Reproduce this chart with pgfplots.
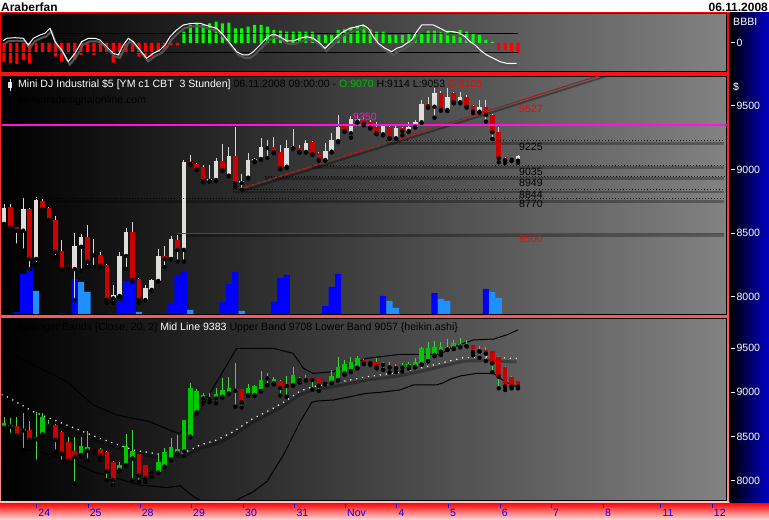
\documentclass[border=0pt]{standalone}
\usepackage{pgfplots}
\usepackage{pgfplotstable}
\pgfplotsset{compat=1.18}
\usepackage{fontspec}
\setmainfont{Liberation Sans}
\definecolor{magline}{RGB}{255,20,220}
\definecolor{candlewhite}{RGB}{222,222,218}
\definecolor{candlered}{RGB}{205,0,0}
\definecolor{wickcol}{RGB}{215,215,215}
\definecolor{hagreen}{RGB}{0,200,0}
\definecolor{hared}{RGB}{200,0,0}
\definecolor{hawick}{RGB}{70,210,70}
\definecolor{oscgreen}{RGB}{0,255,0}
\definecolor{oscred}{RGB}{255,0,0}
\definecolor{volblue}{RGB}{0,0,255}
\definecolor{vollight}{RGB}{30,144,255}
\definecolor{bggray}{RGB}{130,130,130}
\definecolor{navyblue}{RGB}{0,0,200}
\definecolor{titlegreen}{RGB}{0,190,0}
\definecolor{framepink}{RGB}{255,140,140}
\definecolor{shadowgray}{RGB}{85,85,85}
\definecolor{strippink}{RGB}{255,222,222}
\definecolor{seppink}{RGB}{255,195,195}
\newcommand\fs{\fontsize{10.6}{12}\selectfont}
\newcommand\tlab[1]{\rule[3.2bp]{4bp}{1bp}\hspace{1.6bp}#1}
\newcommand\dlab[1]{\makebox[0pt][l]{\raisebox{9.1bp}{\rule{1bp}{3.4bp}}}\hspace{2.3bp}#1}

% price candles (3 hours)
\pgfplotstableread{
i O H L C
0 8573 8730 8551 8696
1 8704 8730 8520 8544
2 8547 8552 8402 8520
3 8520 8774 8363 8690
4 8690 8698 8217 8298
5 8298 8782 8256 8761
6 8753 8777 8683 8690
7 8698 8708 8597 8604
8 8604 8635 8311 8355
9 8361 8447 8212 8219
10 8241 8251 8219 8230
11 8219 8504 7976 8400
12 8394 8494 8206 8471
13 8471 8565 8233 8277
14 8336 8455 8235 8326
15 8329 8355 8238 8245
16 8251 8258 7952 7976
17 7989 8094 7952 8015
18 8007 8355 8000 8321
19 8321 8541 8219 8512
20 8512 8588 8120 8133
21 8141 8150 7955 7976
22 7976 8094 7970 8070
23 8055 8141 8050 8133
24 8125 8376 8120 8321
25 8321 8400 8235 8298
26 8298 8478 8292 8455
27 8447 8486 8277 8369
28 8369 9075 8277 9059
29 9059 9114 9036 9044
30 9044 9052 8996 9004
31 9022 9032 8900 8910
32 8910 9036 8904 8926
33 8918 9091 8910 9067
34 9067 9201 8990 8996
35 8952 9179 8946 9106
36 9106 9336 8865 8894
37 8894 8965 8840 8910
38 8936 9130 8930 9075
39 9067 9092 9058 9083
40 9083 9248 9077 9177
41 9169 9232 9091 9179
42 9179 9258 9128 9135
43 9135 9193 9002 9010
44 9022 9232 9012 9172
45 9169 9318 9160 9185
46 9169 9193 9133 9140
47 9138 9232 9133 9208
48 9216 9224 9114 9122
49 9130 9135 9068 9075
50 9075 9208 9068 9146
51 9140 9285 9134 9232
52 9224 9428 9215 9336
53 9344 9356 9296 9303
54 9285 9423 9250 9397
55 9376 9428 9368 9397
56 9397 9410 9347 9355
57 9376 9386 9322 9329
58 9336 9376 9277 9285
59 9277 9360 9268 9344
60 9336 9360 9240 9245
61 9245 9345 9240 9329
62 9329 9337 9268 9303
63 9303 9373 9296 9336
64 9336 9389 9330 9371
65 9371 9546 9365 9512
66 9512 9570 9485 9493
67 9493 9640 9407 9599
68 9599 9620 9462 9468
69 9468 9640 9460 9572
70 9599 9610 9520 9528
71 9528 9611 9520 9572
72 9572 9585 9486 9493
73 9501 9508 9443 9454
74 9454 9546 9447 9493
75 9493 9546 9376 9428
76 9428 9437 9240 9292
77 9292 9336 9057 9088
78 9093 9098 9051 9073
79 9078 9098 9066 9086
80 9070 9114 9053 9105
}\pricetab

% heikin-ashi candles
\pgfplotstableread{
i O H L C
0 8599 8724 8572 8648
1 8610 8705 8516 8629
2 8618 8724 8500 8508
3 8565 8762 8346 8584
4 8569 8675 8440 8459
5 8470 8780 8213 8497
6 8523 8762 8510 8716
7 8618 8686 8580 8640
8 8629 8640 8327 8459
9 8546 8560 8213 8304
10 8433 8497 8215 8225
11 8334 8497 7968 8270
12 8289 8497 8280 8391
13 8338 8561 8225 8380
14 8365 8370 8308 8346
15 8357 8365 8232 8281
16 8327 8335 8005 8100
17 8213 8220 7949 8006
18 8119 8213 8110 8175
19 8175 8523 8170 8391
20 8251 8572 8005 8334
21 8296 8300 7986 8054
22 8175 8180 7986 8024
23 8107 8120 8040 8092
24 8092 8308 8085 8213
25 8157 8365 8150 8319
26 8240 8478 8230 8380
27 8308 8516 8300 8357
28 8330 8690 8280 8686
29 8497 9101 8490 9052
30 8773 9040 8760 9015
31 8931 8990 8880 8969
32 8920 8990 8886 8939
33 8931 9052 8875 8985
34 8950 9158 8940 9026
35 8988 9177 8980 9052
36 9018 9330 8837 9037
37 9037 9040 8826 8886
38 8969 9090 8960 9052
39 8969 9085 8960 9075
40 9015 9241 9010 9140
41 9158 9215 9080 9177
42 9102 9177 9090 9150
43 9128 9135 8962 9052
44 9094 9185 8950 9071
45 9083 9290 9075 9196
46 9135 9177 9110 9142
47 9140 9200 9130 9166
48 9158 9165 9030 9140
49 9158 9165 9015 9075
50 9120 9125 9090 9098
51 9109 9253 9100 9185
52 9140 9405 9130 9283
53 9215 9366 9200 9317
54 9241 9405 9230 9347
55 9279 9415 9270 9385
56 9366 9380 9320 9328
57 9355 9360 9310 9328
58 9347 9385 9270 9290
59 9322 9345 9255 9310
60 9310 9347 9225 9280
61 9300 9320 9230 9272
62 9280 9328 9235 9303
63 9290 9345 9270 9317
64 9290 9385 9280 9347
65 9317 9510 9310 9499
66 9355 9575 9350 9506
67 9423 9582 9410 9517
68 9461 9575 9423 9517
69 9487 9605 9480 9517
70 9499 9593 9490 9555
71 9518 9612 9510 9548
72 9538 9590 9520 9523
73 9536 9540 9420 9453
74 9491 9528 9393 9461
75 9480 9517 9355 9438
76 9468 9470 9227 9328
77 9397 9400 9045 9177
78 9290 9295 9026 9064
79 9177 9180 9045 9064
80 9128 9130 9045 9064
}\heikintab

\pgfplotstableread{
i P
-0.4 9440
1.45 9423
4.57 9310
9.76 9121
13.9 8856
17.5 8743
22.7 8667
26.4 8554
27.4 8535
28.4 8629
30.5 8799
33.6 9177
36.2 9499
41.9 9499
45.0 9442
46.6 9272
48.1 9215
51.3 9234
56.4 9385
61.6 9430
67.9 9431
69.4 9499
73.0 9593
76.2 9604
78.2 9650
80.0 9708
}\upband

\pgfplotstableread{
i P
-0.4 8975
0 8969
4.57 8780
9.76 8629
14.9 8478
20.1 8346
24.3 8297
27.4 8308
28.4 8327
30.5 8402
33.1 8459
35.7 8554
38.8 8705
40.9 8780
43.5 8886
46.1 9015
48.1 9064
51.3 9102
56.4 9177
61.6 9226
65.3 9283
68.9 9347
71.5 9393
76.2 9404
77.2 9393
79.8 9383
}\midband

\pgfplotstableread{
i P
1.45 8380
5.6 8327
9.76 8232
13.9 8100
17.5 8024
21.2 7949
25.3 7919
27.4 7941
29.5 7817
30.5 7779
33.0 7650
36.2 7779
38.8 7873
40.9 7987
43.5 8289
46.1 8667
47.9 8886
48.7 8901
51.3 8913
56.4 8988
58.5 9000
61.6 9026
63.7 9083
67.3 9083
68.4 9109
69.4 9147
71.0 9185
73.6 9215
76.2 9215
76.9 9177
77.7 9132
78.5 9102
80.0 9057
}\lowband

\pgfplotstableread{
i v
0 -18.9
1 -20.5
2 -21.2
3 -17.2
4 -20.5
5 -9.9
6 -9.9
7 -9.9
8 -13.9
9 -18.9
10 -10.5
11 -17.2
12 -12.2
13 -9.9
14 -12.2
15 -9.9
16 -10.5
17 -19.9
18 -13.2
19 -9.9
20 -9.9
21 -13.9
22 -13.9
23 -13.9
24 -9.9
25 -6.5
26 -2.2
27 -2.2
77 -7.2
78 -7.2
79 -10.5
80 -10.5
}\oscneg

\pgfplotstableread{
i v
28 11.1
29 17.8
30 20.1
31 17.8
32 19.5
33 21.1
34 19.5
35 20.1
36 14.5
37 14.5
38 16.1
39 17.8
40 17.8
41 16.1
42 12.8
43 12.1
44 11.1
45 11.1
46 11.1
47 11.1
48 11.1
49 7.8
50 7.8
51 7.8
52 12.8
53 13.5
54 15.5
55 16.8
56 16.8
57 13.5
58 11.1
59 11.1
60 7.8
61 7.8
62 7.8
63 9.5
64 9.5
65 9.5
66 12.1
67 12.1
68 12.1
69 12.1
70 11.1
71 12.8
72 11.1
73 9.5
74 7.8
75 2.8
76 1.1
}\oscpos

\pgfplotstableread{
i v
-0.1 2.1
0.42 4.5
1.71 5.1
3.0 4.5
3.79 -2.2
4.57 4.5
5.6 7.8
6.38 9.5
7.16 14.5
7.94 1.1
8.98 -7.2
10.0 -18.9
11.05 -10.5
12.09 1.1
13.12 4.5
14.16 4.5
14.94 2.8
15.98 -3.9
17.01 -10.5
17.79 -12.2
18.57 -2.2
19.35 4.5
20.12 1.1
21.17 -7.2
22.21 -15.5
23.24 -10.5
24.28 -7.2
25.06 -2.2
25.84 6.1
26.88 12.8
27.91 17.8
29.21 19.5
30.51 19.5
31.8 16.8
33.1 14.5
34.13 7.8
35.18 -0.5
36.22 -8.9
37.25 -12.2
38.03 -12.2
38.81 -8.9
39.84 -2.2
40.89 5.0
41.92 8.8
42.96 6.1
44.0 1.8
45.03 1.8
46.07 4.5
47.11 6.1
48.14 4.5
49.18 -0.5
49.96 -5.5
50.74 -0.5
51.78 6.1
52.81 11.1
53.85 14.5
54.9 16.1
55.92 17.8
56.7 14.5
57.48 6.1
58.26 -0.5
59.3 -5.5
60.34 -8.9
61.12 -5.5
61.9 -3.9
62.68 -0.5
63.46 2.8
64.23 11.1
65.01 17.8
66.82 17.8
67.86 14.5
68.9 11.1
69.93 11.1
70.97 9.5
71.75 6.1
72.53 1.1
73.31 -2.2
74.09 -7.2
75.13 -12.2
76.16 -15.5
77.2 -18.9
78.24 -20.5
79.8 -20.5
}\oscline

\pgfplotstableread{
i v
1 1
2 3
3 41
4 47
9 2
11 36
16 1
17 2
18 14
19 34
20 35
25 2
26 12
27 40
28 44
33 1
34 13
35 31
36 43
41 1
42 13
43 37
44 40
50 9
51 28
52 41
59 19
67 22
74 1
75 26
}\volbluetab

\pgfplotstableread{
i v
5 24
12 33
13 23
21 3
29 5
37 4
45 1
53 1
60 14
61 7
68 16
69 14
76 23
77 17
}\vollighttab

\pgfplotsset{
  panel/.style={scale only axis, width=725bp, xmin=-0.358, xmax=112.48, clip=true,
    axis line style={draw=black, line width=1bp}, xtick=\empty, major tick length=0pt,
    yticklabel pos=right,
    tick label style={font=\fs, text=white, inner sep=0pt},
    yticklabel style={anchor=west, xshift=4bp},
    axis background/.style={shade, left color=black, right color=bggray}},
  wick/.style={only marks, no markers, forget plot, error bars/.cd, y dir=plus, y explicit,
    error mark=none, error bar style={line width=1bp, draw=#1}, /pgfplots/.cd},
  body/.style={only marks, no markers, forget plot, error bars/.cd, y dir=plus, y explicit,
    error mark=none, error bar style={line width=4.6bp, draw=#1}, /pgfplots/.cd},
}

\begin{document}
\begin{tikzpicture}[x=1bp, y=1bp, font=\fs]
% page and frames
\fill[white] (0,0) rectangle (769,520);
\shade[top color=red, bottom color=framepink] (0,17.3) rectangle (729.5,507.3);
\shade[top color=red, bottom color=strippink] (0,0) rectangle (769,17.3);
\fill[seppink] (0,17.3) rectangle (729.5,19.0);
\shade[left color=black, right color=navyblue] (729.5,17.3) rectangle (769,507.3);
\node[anchor=west, font=\fontsize{12}{13}\selectfont\bfseries, inner sep=0pt] at (1,513) {Araberfan};
\node[anchor=east, font=\fontsize{12}{13}\selectfont\bfseries, inner sep=0pt] at (768,513) {06.11.2008};

% ---------- top oscillator panel ----------
\begin{axis}[panel, at={(1.7bp,448.3bp)}, anchor=south west, height=57.7bp,
  ymin=-28.9, ymax=28.8, ytick={0}, yticklabels={\tlab{0}}]
\addplot[oscred, ybar, bar width=3.2bp, draw=none, fill=oscred] table[x=i,y=v] {\oscneg};
\addplot[oscgreen, ybar, bar width=3bp, draw=none, fill=oscgreen] table[x=i,y=v] {\oscpos};
\addplot[black, line width=1bp] coordinates {(-0.4,9.5) (80.0,9.5)};
\addplot[black, line width=1bp] coordinates {(-0.4,-9.9) (80.0,-9.9)};
\addplot[shadowgray, line width=2bp, xshift=1.5bp, yshift=-3bp] table[x=i,y=v] {\oscline};
\addplot[white, line width=1bp] table[x=i,y=v] {\oscline};
\end{axis}
\node[anchor=west, text=white, inner sep=0pt] at (733,498) {BBBI};

% ---------- price panel: volume underlay ----------
\begin{axis}[panel, at={(1.7bp,205bp)}, anchor=south west, height=238.5bp,
  ymin=0, ymax=238.5, ytick=\empty, axis line style={draw=none}]
\addplot[ybar, bar width=6.2bp, draw=none, fill=volblue] table[x=i,y=v] {\volbluetab};
\addplot[ybar, bar width=6.2bp, draw=none, fill=vollight] table[x=i,y=v] {\vollighttab};
\end{axis}

% ---------- price panel: candles and levels ----------
\begin{axis}[panel, at={(1.7bp,205bp)}, anchor=south west, height=238.5bp,
  axis background/.style={}, ymin=7858, ymax=9730.5,
  ytick={8000,8500,9000,9500}, yticklabels={\tlab{8000},\tlab{8500},\tlab{9000},\tlab{9500}}]
% level line shadows
\addplot[black, opacity=0.3, line width=2.5bp, yshift=-2.5bp] coordinates {(59.5,9225) (112.06,9225)};
\addplot[black, opacity=0.3, line width=2.5bp, yshift=-2.5bp] coordinates {(47.9,9035) (112.06,9035)};
\addplot[black, opacity=0.3, line width=2.5bp, yshift=-2.5bp] coordinates {(40.6,8949) (112.06,8949)};
\addplot[black, opacity=0.3, line width=2.5bp, yshift=-2.5bp] coordinates {(35.6,8844) (112.06,8844)};
\addplot[black, opacity=0.3, line width=2.5bp, yshift=-2.5bp] coordinates {(4.5,8770) (112.06,8770)};
\addplot[black, opacity=0.3, line width=2.5bp, yshift=-2.5bp] coordinates {(26.9,8500) (112.06,8500)};
\addplot[black, opacity=0.35, line width=2bp, yshift=-2.5bp, xshift=1bp] coordinates {(36.7,8847) (95,9775)};
% candles
\addplot[wick=wickcol] table[x=i, y=L, y error expr=\thisrow{H}-\thisrow{L}] {\pricetab};
\addplot[restrict expr to domain={\thisrow{C}-\thisrow{O}}{0:10000}, body=candlewhite]
  table[x=i, y=O, y error expr=\thisrow{C}-\thisrow{O}] {\pricetab};
\addplot[restrict expr to domain={\thisrow{O}-\thisrow{C}}{0.001:10000}, body=candlered]
  table[x=i, y=C, y error expr=\thisrow{O}-\thisrow{C}] {\pricetab};
% levels
\addplot[black, line width=1bp, dash pattern=on 1bp off 2bp] coordinates {(59.5,9225) (112.06,9225)};
\addplot[black, line width=1bp, dash pattern=on 1bp off 2bp] coordinates {(47.9,9035) (112.06,9035)};
\addplot[black, line width=1bp, dash pattern=on 1bp off 2bp] coordinates {(40.6,8949) (112.06,8949)};
\addplot[black, line width=1bp, dash pattern=on 1bp off 2bp] coordinates {(35.6,8844) (112.06,8844)};
\addplot[black, line width=1bp, dash pattern=on 1bp off 2bp] coordinates {(4.5,8770) (112.06,8770)};
\addplot[red, line width=1bp] coordinates {(26.9,8500) (112.06,8500)};
\addplot[black!75, line width=1bp] coordinates {(36.7,8847) (95,9775)};
\addplot[red, line width=1bp, dash pattern=on 3bp off 3bp] coordinates {(36.7,8847) (95,9775)};
\addplot[magline, line width=2.8bp] coordinates {(-0.4,9350) (112.5,9350)};
\end{axis}
% price panel texts
\fill[candlewhite] (8,432) rectangle (12,438);
\draw[white, line width=1bp] (10,429) -- (10,441);
\node[anchor=west, inner sep=0pt] at (18,435) {{\color{white}Mini DJ Industrial \$5 [YM c1 CBT\ \ 3 Stunden]} 06.11.2008 09:00:00 - {\color{titlegreen}O:9070} H:9114 L:9053 {\color{red}C:9105}};
\node[anchor=west, inner sep=0pt] at (18,419) {www.tradesignalonline.com};
\node[anchor=west, text=white, inner sep=0pt] at (733,433) {\$};
\node[anchor=west, text=magline, inner sep=0pt] at (353,403) {9350};
\node[anchor=west, text=red, inner sep=0pt] at (519,411.5) {9527};
\node[anchor=west, inner sep=0pt] at (519,373.5) {9225};
\node[anchor=west, inner sep=0pt] at (519,348.5) {9035};
\node[anchor=west, inner sep=0pt] at (519,337.5) {8949};
\node[anchor=west, inner sep=0pt] at (519,325) {8844};
\node[anchor=west, inner sep=0pt] at (519,316) {8770};
\node[anchor=west, text=red, inner sep=0pt] at (519,281) {8500};

% ---------- Bollinger / Heikin-Ashi panel ----------
\begin{axis}[panel, at={(1.7bp,19.3bp)}, anchor=south west, height=182.2bp,
  ymin=7771, ymax=9837,
  ytick={8000,8500,9000,9500}, yticklabels={\tlab{8000},\tlab{8500},\tlab{9000},\tlab{9500}},
  xtick={4.98,12.97,21.06,29.06,37.15,45.14,53.03,61.01,69.06,77.09,85.09,93.18,102.1,110.1},
  xticklabels={\dlab{24},\dlab{25},\dlab{28},\dlab{29},\dlab{30},\dlab{31},\dlab{Nov},\dlab{4},\dlab{5},\dlab{6},\dlab{7},\dlab{8},\dlab{11},\dlab{12}},
  xticklabel style={anchor=north west, text=blue, yshift=-3.3bp}]
\addplot[black, opacity=0.3, line width=3bp, yshift=-3.5bp] table[x=i,y=P] {\midband};
\addplot[black, line width=1bp] table[x=i,y=P] {\upband};
\addplot[black, line width=1bp] table[x=i,y=P] {\lowband};
\addplot[white, line width=1.2bp, dash pattern=on 1.2bp off 4.8bp] table[x=i,y=P] {\midband};
\addplot[wick=hawick] table[x=i, y=L, y error expr=\thisrow{H}-\thisrow{L}] {\heikintab};
\addplot[restrict expr to domain={\thisrow{C}-\thisrow{O}}{0:10000}, body=hagreen]
  table[x=i, y=O, y error expr=\thisrow{C}-\thisrow{O}] {\heikintab};
\addplot[restrict expr to domain={\thisrow{O}-\thisrow{C}}{0.001:10000}, body=hared]
  table[x=i, y=C, y error expr=\thisrow{O}-\thisrow{C}] {\heikintab};
\end{axis}
\node[anchor=west, inner sep=0pt] at (18,192) {Bollinger Bands [Close, 20, 2] {\color{white}Mid Line 9383} Upper Band 9708 Lower Band 9057 \{heikin.ashi\}};
\end{tikzpicture}
\end{document}
